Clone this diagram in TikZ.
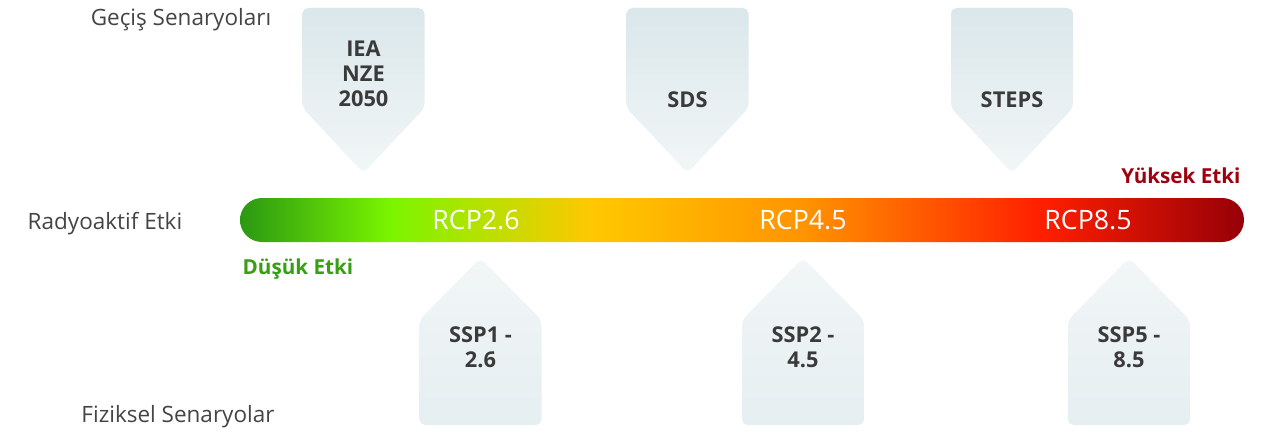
\documentclass[tikz,border=0pt]{standalone}
\usepackage{fontspec}
\setmainfont{Open Sans}
\usetikzlibrary{positioning}
\definecolor{tagfillA}{HTML}{DAE7EB}
\definecolor{tagfillB}{HTML}{F2F6F7}
\definecolor{labelgray}{HTML}{444444}
\definecolor{taggray}{HTML}{3A3A3A}
\definecolor{lowgreen}{HTML}{36A012}
\definecolor{highred}{HTML}{A0000E}
\definecolor{barA}{HTML}{2B9812}
\definecolor{barB}{HTML}{7AF500}
\definecolor{barC}{HTML}{FFC800}
\definecolor{barD}{HTML}{FF9400}
\definecolor{barE}{HTML}{FF1E00}
\definecolor{barF}{HTML}{960008}
\pgfdeclarehorizontalshading{rcpbar}{100bp}{color(0bp)=(barA); color(25bp)=(barA);
  color(32.5bp)=(barB); color(42.5bp)=(barC); color(53bp)=(barD);
  color(65bp)=(barE); color(75bp)=(barF); color(100bp)=(barF)}
\tikzset{
   axislabel/.style = { font=\fontsize{16}{18}\selectfont, text=labelgray },
    taglabel/.style = { font=\bfseries\fontsize{15.5}{17.8}\selectfont, text=taggray, align=center },
    rcplabel/.style = { font=\fontsize{19}{21}\selectfont, text=white },
   impactlbl/.style = { font=\bfseries\fontsize{14.7}{16}\selectfont },
    tagshape/.style = { top color=tagfillA, bottom color=tagfillB, rounded corners=4 },
}

\begin{document}
\begin{tikzpicture}[x=0.025cm, y=-0.025cm]
  \useasboundingbox (0,0) rectangle (1271,433);
  \shade [shading=rcpbar, rounded corners=15.6pt] (240,198) rectangle (1244,242);
  \foreach \cx/\ty/\txt/\nm in {363.5/74/{IEA\\NZE\\2050}/iea, 687.5/100/SDS/sds, 1012/100/STEPS/steps} {
    \shade [tagshape] (\cx-61,8) -- (\cx+61,8) -- (\cx+61,108) -- (\cx,173) -- (\cx-61,108) -- cycle;
    \node [taglabel] (\nm) at (\cx,\ty) {\txt};
  }
  \foreach \cx/\txt/\nm in {480.5/{SSP1 -\\2.6}/ssp1, 803/{SSP2 -\\4.5}/ssp2, 1129/{SSP5 -\\8.5}/ssp5} {
    \shade [tagshape, top color=tagfillB, bottom color=tagfillA!70!white] (\cx,258) -- (\cx+61,320) -- (\cx+61,425) -- (\cx-61,425) -- (\cx-61,320) -- cycle;
    \node [taglabel] (\nm) at (\cx,347) {\txt};
  }
  \node [axislabel] (gecis) at (181,20)  {Geçiş Senaryoları};
  \node [axislabel] (radyo) at (105,224) {Radyoaktif Etki};
  \node [axislabel] (fizik) at (178,417) {Fiziksel Senaryolar};
  \node [impactlbl, text=lowgreen] (dusuk)  at (298,269)  {Düşük Etki};
  \node [impactlbl, text=highred]  (yuksek) at (1181,176) {Yüksek Etki};
  \foreach \cx/\txt/\nm in {476/RCP2.6/rcpa, 803/RCP4.5/rcpb, 1088/RCP8.5/rcpc}
    \node [rcplabel] (\nm) at (\cx,220) {\txt};
\end{tikzpicture}
\end{document}
